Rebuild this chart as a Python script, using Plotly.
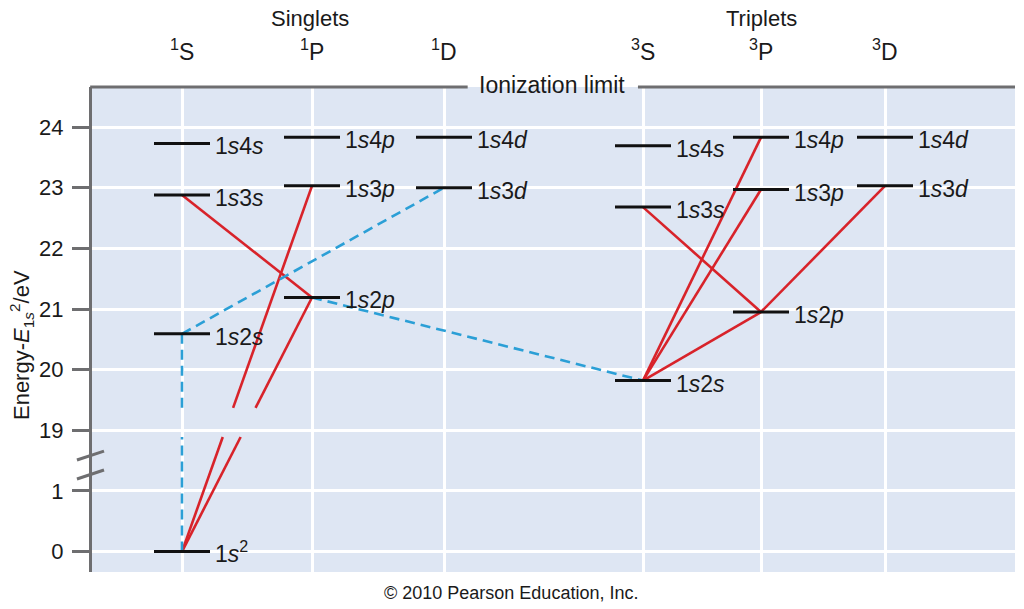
import plotly.graph_objects as go

# ---------------- data ----------------
GROUP_TITLES = ["Singlets", "Triplets"]
TERMS = ["1S", "1P", "1D", "3S", "3P", "3D"]
TERM_TEXT = ["<sup>1</sup>S", "<sup>1</sup>P", "<sup>1</sup>D",
             "<sup>3</sup>S", "<sup>3</sup>P", "<sup>3</sup>D"]

LEVEL_TERM = ["1S", "1S", "1S", "1S", "1P", "1P", "1P", "1D", "1D",
              "3S", "3S", "3S", "3P", "3P", "3P", "3D", "3D"]
LEVEL_NAME = ["1s2", "1s2s", "1s3s", "1s4s", "1s2p", "1s3p", "1s4p", "1s3d", "1s4d",
              "1s2s", "1s3s", "1s4s", "1s2p", "1s3p", "1s4p", "1s3d", "1s4d"]
LEVEL_ENERGY = [0.0, 20.59, 22.88, 23.73, 21.19, 23.03, 23.83, 23.00, 23.83,
                19.82, 22.68, 23.69, 20.95, 22.97, 23.83, 23.03, 23.83]

# transitions: (term, name) -> (term, name)
ALLOWED = [(("1S", "1s3s"), ("1P", "1s2p")),
           (("1P", "1s3p"), ("1S", "1s2")),
           (("1P", "1s2p"), ("1S", "1s2")),
           (("3S", "1s3s"), ("3P", "1s2p")),
           (("3P", "1s4p"), ("3S", "1s2s")),
           (("3P", "1s3p"), ("3S", "1s2s")),
           (("3P", "1s2p"), ("3S", "1s2s")),
           (("3D", "1s3d"), ("3P", "1s2p"))]
FORBIDDEN = [(("1S", "1s2"), ("1S", "1s2s")),
             (("1S", "1s2s"), ("1D", "1s3d")),
             (("1P", "1s2p"), ("3S", "1s2s"))]

TICK_ENERGIES = [0, 1, 19, 20, 21, 22, 23, 24]
TICK_TEXT = ["0", "1", "19", "20", "21", "22", "23", "24"]

# ---------------- layout / style ----------------
COL_X = {"1S": 90, "1P": 220, "1D": 352, "3S": 551, "3P": 669, "3D": 793}
X_RANGE = [0, 923]
Y_RANGE = [-0.336, 7.66]
HALF_W = 28
LABEL_DX = 31
BREAK_SHIFT = 17          # energies above the break are drawn shifted down by this
LINE_GAP = (1.89, 2.37)   # gap in the transition lines across the axis break (plot units)

BG = "#dee6f3"
RED = "#d8232a"
BLUE = "#2b9fd6"
GRAY = "#6e6e70"
TXT = "#1a1a1a"
FONT = "Liberation Sans"


def ymap(e):
    return e - BREAK_SHIFT if e >= 10 else e


def level_xy(key):
    term, name = key
    for t, n, e in zip(LEVEL_TERM, LEVEL_NAME, LEVEL_ENERGY):
        if t == term and n == name:
            return COL_X[t], ymap(e)
    raise KeyError(key)


def segment(a, b):
    (x0, y0), (x1, y1) = level_xy(a), level_xy(b)
    lo, hi = LINE_GAP
    if min(y0, y1) < lo and max(y0, y1) > hi:
        if y0 > y1:
            (x0, y0), (x1, y1) = (x1, y1), (x0, y0)

        def xat(y):
            return x0 + (x1 - x0) * (y - y0) / (y1 - y0)
        return [x0, xat(lo), None, xat(hi), x1, None], [y0, lo, None, hi, y1, None]
    return [x0, x1, None], [y0, y1, None]


fig = go.Figure()

for group, color, dash in ((ALLOWED, RED, "solid"), (FORBIDDEN, BLUE, "10px,6px")):
    xs, ys = [], []
    for a, b in group:
        sx, sy = segment(a, b)
        xs += sx
        ys += sy
    fig.add_trace(go.Scatter(x=xs, y=ys, mode="lines",
                             line=dict(color=color, width=2.6, dash=dash),
                             hoverinfo="skip", showlegend=False))

lx, ly = [], []
for t, e in zip(LEVEL_TERM, LEVEL_ENERGY):
    cx = COL_X[t]
    lx += [cx - HALF_W, cx + HALF_W, None]
    ly += [ymap(e), ymap(e), None]
fig.add_trace(go.Scatter(x=lx, y=ly, mode="lines", line=dict(color="#111111", width=3),
                         hoverinfo="skip", showlegend=False))


def fmt(name):
    if name == "1s2":
        return "1<i>s</i><sup>2</sup>"
    return name[0] + "<i>s</i>" + name[2] + "<i>" + name[3] + "</i>"


ann = []
for t, n, e in zip(LEVEL_TERM, LEVEL_NAME, LEVEL_ENERGY):
    ann.append(dict(x=COL_X[t] + LABEL_DX, y=ymap(e), xref="x", yref="y",
                    text=fmt(n), showarrow=False, xanchor="left", yanchor="middle",
                    yshift=-3 if n != "1s2" else 0,
                    font=dict(size=23, color=TXT, family=FONT)))

for t, txt in zip(TERMS, TERM_TEXT):
    ann.append(dict(x=COL_X[t], y=1, xref="x", yref="paper", text=txt, showarrow=False,
                    xanchor="center", yanchor="middle", yshift=37,
                    font=dict(size=23, color=TXT, family=FONT)))

for title, terms in zip(GROUP_TITLES, (TERMS[:3], TERMS[3:])):
    cx = (COL_X[terms[0]] + COL_X[terms[-1]]) / 2 - 3
    ann.append(dict(x=cx, y=1, xref="x", yref="paper", text=title, showarrow=False,
                    xanchor="center", yanchor="middle", yshift=69,
                    font=dict(size=22, color=TXT, family=FONT)))

ann.append(dict(x=0.4984, y=1, xref="paper", yref="paper", text="Ionization limit",
                showarrow=False, xanchor="center", yanchor="middle", yshift=2,
                font=dict(size=23, color=TXT, family=FONT)))
ann.append(dict(x=0, y=0.468, xref="paper", yref="paper",
                text="Energy-<i>E</i><sub>1<i>s</i></sub><sup>2</sup>/eV",
                textangle=-90, showarrow=False, xanchor="center", yanchor="middle",
                xshift=-71, font=dict(size=22, color=TXT, family=FONT)))
ann.append(dict(x=0.454, y=-0.043, xref="paper", yref="paper",
                text="© 2010 Pearson Education, Inc.", showarrow=False,
                xanchor="center", yanchor="middle",
                font=dict(size=18, color=TXT, family=FONT)))

shapes = [
    dict(type="line", xref="paper", yref="paper", x0=-0.002, x1=0.407, y0=1, y1=1,
         line=dict(color=GRAY, width=3)),
    dict(type="line", xref="paper", yref="paper", x0=0.5915, x1=1, y0=1, y1=1,
         line=dict(color=GRAY, width=3)),
    dict(type="line", xref="paper", yref="y", x0=-0.0163, x1=0.013, y0=1.51, y1=1.658,
         line=dict(color=GRAY, width=3)),
    dict(type="line", xref="paper", yref="y", x0=-0.0163, x1=0.013, y0=1.197, y1=1.345,
         line=dict(color=GRAY, width=3)),
]

fig.update_layout(
    width=1024, height=609,
    margin=dict(l=92, r=9, t=87, b=37),
    paper_bgcolor="white", plot_bgcolor=BG,
    annotations=ann, shapes=shapes,
    font=dict(family=FONT, color=TXT),
    xaxis=dict(range=X_RANGE, tickvals=[COL_X[t] for t in TERMS], showticklabels=False,
               ticks="", showgrid=True, gridcolor="white", gridwidth=3, zeroline=False,
               showline=False, fixedrange=True),
    yaxis=dict(range=Y_RANGE, tickvals=[ymap(e) for e in TICK_ENERGIES], ticktext=TICK_TEXT,
               ticks="outside", ticklen=17, tickwidth=3, tickcolor=GRAY,
               showline=True, linecolor=GRAY, linewidth=3,
               showgrid=True, gridcolor="white", gridwidth=3, zeroline=False,
               tickfont=dict(size=22, color=TXT, family=FONT), ticklabelstandoff=4,
               fixedrange=True),
)

fig.write_html("out.html", config={"displayModeBar": False},
               post_script="document.body.style.margin='0';document.body.style.overflow='hidden';")
